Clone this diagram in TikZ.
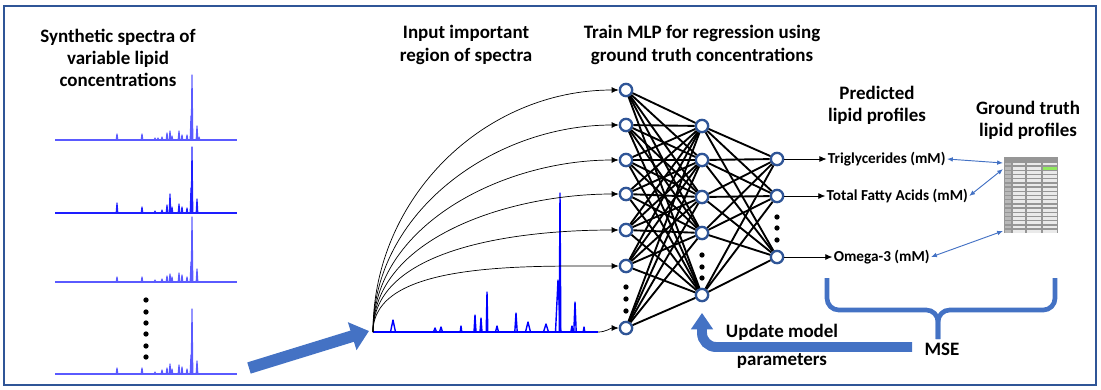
\documentclass[tikz,border=0pt]{standalone}
\usepackage{fontspec}
\setmainfont{Carlito}
\usetikzlibrary{arrows.meta, positioning}

\definecolor{frameblue}{RGB}{47,85,151}
\definecolor{arrowblue}{RGB}{68,114,196}
\definecolor{specblue}{RGB}{90,90,255}
\definecolor{specdeep}{RGB}{30,30,255}
\definecolor{tabgray}{RGB}{150,150,150}
\definecolor{tabside}{RGB}{185,185,185}
\definecolor{tabcell}{RGB}{234,234,234}
\definecolor{tabgreen}{RGB}{146,232,96}

\tikzset{
  heading/.style={font=\fontsize{16.2}{19}\selectfont\bfseries, align=center, inner sep=1pt},
  outlabel/.style={font=\fontsize{13}{15}\selectfont\bfseries, inner sep=1pt},
  neuron/.style={circle, draw=frameblue, line width=2pt, fill=white, minimum size=10.5pt, inner sep=0pt},
  vdot/.style={circle, fill=black, inner sep=0pt, minimum size=4.5pt},
  link/.style={line width=1.6pt},
  feed/.style={-{Latex[length=6pt,width=5pt]}, line width=0.6pt},
  dbl/.style={{Latex[length=5pt,width=4pt]}-{Latex[length=5pt,width=4pt]}, arrowblue, line width=0.8pt},
  brace/.style={arrowblue, line width=4pt, rounded corners=10pt},
  update/.style={arrowblue, line width=8.5pt, rounded corners=12pt, -{Triangle[width=18pt,length=14pt]}},
  bigarrow/.style={arrowblue, line width=10pt, -{Triangle[width=24pt,length=15pt]}},
}

% small spectrum: #1 baseline, #2 colour, #3 peaks x/h
\newcommand{\smallspec}[3]{%
  \draw[#2, line width=1.2pt] (55,#1) -- (237,#1);
  \foreach \px/\ph in {#3}
    \draw[#2, line width=1pt, line join=round] (\px-0.8,#1) -- (\px,#1-\ph) -- (\px+0.8,#1);
}

\begin{document}
\begin{tikzpicture}[x=0.03cm, y=-0.03cm]
  \useasboundingbox (0,0) rectangle (1101,389);
  \draw[frameblue, line width=2.5pt] (4,6) rectangle (1096,385);

  % headings
  \node[heading] (synth) at (118,58) {Synthetic spectra of\\variable lipid\\concentrations};
  \node[heading] (inreg) at (466,45) {Input important\\region of spectra};
  \node[heading] (train) at (702,45) {Train MLP for regression using\\ground truth concentrations};
  \node[heading] (pred) at (877,105) {Predicted\\lipid profiles};
  \node[heading] (gtruth) at (1028,120) {Ground truth\\lipid profiles};

  % synthetic spectra
  \smallspec{140}{specblue}{117/6,142/6,155/2,158/2,162/3,167/7,170/9,172/4,179/9,182/5,187/5,191/24,192/65,197/14,199/3}
  \smallspec{213}{specdeep}{117/10,142/6,155/2,162/3,167/8,170/19,172/6,179/9,182/6,187/5,191/25,192/66,197/14}
  \smallspec{282}{specblue}{117/5,142/5,155/2,162/3,167/6,170/8,172/5,179/9,182/7,187/5,191/20,192/65,197/13}
  \smallspec{374}{specblue}{117/6,142/6,155/2,162/4,167/6,170/10,172/5,179/9,182/7,187/5,191/19,192/65,197/13}
  \foreach \y [count=\i] in {300,312,323,334,346,357}
    \node[vdot] (ldot\i) at (146,\y) {};

  \draw[bigarrow] (249,368) -- (369,331);

  % input region of spectrum
  \coordinate (base) at (373,332);
  \coordinate (specend) at (598,332);
  \draw[blue, line width=1.3pt] (base) -- (specend);
  \foreach \px/\ph/\pw in {393/12/2.5,435/4/1.5,441/5/1.5,461/6/0.8,475/17/1,481/14/1,487/40/0.8,497/6/1.5,516/19/1.2,528/10/2.5,546/8/2.5,558/52/2.5,560/139/0.8,572/6/1.2,575/30/1.2,584/5/0.8}
    \draw[blue, line width=1.2pt, line join=round] (\px-\pw,332) -- (\px,332-\ph) -- (\px+\pw,332);

  % network
  \foreach \y [count=\i] in {90,125,160,194,230,266,328}
    \node[neuron] (in\i) at (626,\y) {};
  \foreach \y [count=\i] in {126,160,197,233,295}
    \node[neuron] (hid\i) at (702,\y) {};
  \foreach \y [count=\i] in {159,196,257}
    \node[neuron] (out\i) at (777,\y) {};
  \foreach \i in {1,...,7}
    \foreach \j in {1,...,5}
      \draw[link] (in\i) -- (hid\j);
  \foreach \i in {1,...,5}
    \foreach \j in {1,...,3}
      \draw[link] (hid\i) -- (out\j);
  \foreach \y [count=\i] in {287,299,311}
    \node[vdot] (idot\i) at (626,\y) {};
  \foreach \y [count=\i] in {255,267,278}
    \node[vdot] (hdot\i) at (702,\y) {};
  \foreach \y [count=\i] in {217,228,240}
    \node[vdot] (odot\i) at (777,\y) {};

  \foreach \i/\lo in {1/1,2/0.95,3/0.9,4/0.85,5/0.8,6/0.7}
    \draw[feed] (base) to[out=90, in=180, out looseness=\lo] (in\i.west);
  \draw[feed] (specend) to[out=0, in=180] (in7.west);

  % predictions
  \node[outlabel, right=36pt of out1] (trig) {Triglycerides (mM)};
  \node[outlabel, right=35pt of out2] (tfa) {Total Fatty Acids (mM)};
  \node[outlabel, right=41pt of out3] (omega) {Omega-3 (mM)};
  \foreach \o/\t in {out1/trig,out2/tfa,out3/omega}
    \draw[feed] (\o) -- (\t);

  % ground truth table
  \fill[tabgray] (1004,157) rectangle (1058,233);
  \foreach \r in {0,...,16} {
    \fill[tabside] (1004.7,162.6+\r*4.2) rectangle (1011.3,165.4+\r*4.2);
    \foreach \ca/\cb in {1012/1026,1026/1042,1042/1058}
      \fill[tabcell] (\ca+0.7,162.6+\r*4.2) rectangle (\cb-0.7,165.4+\r*4.2);
  }
  \fill[tabgreen] (1042.7,166.8) rectangle (1057.3,169.6);
  \coordinate (tabA) at (1003,163);
  \coordinate (tabB) at (1003,169);
  \coordinate (tabC) at (1003,231);
  \draw[dbl] (trig.east) -- (tabA);
  \draw[dbl] (tfa.east) -- (tabB);
  \draw[dbl] (omega.east) -- (tabC);

  % loss and update
  \draw[brace] (827,278) -- (827,310) -- (938,310) -- (938,339);
  \draw[brace] (1055,278) -- (1055,310) -- (938,310) -- (938,339);
  \node[heading] (mse) at (942,349) {MSE};
  \node[heading] (upd) at (782,346) {Update model\\[5pt]parameters};
  \draw[update] (912,347) -| ([yshift=-9pt]hid5.south);
\end{tikzpicture}
\end{document}
